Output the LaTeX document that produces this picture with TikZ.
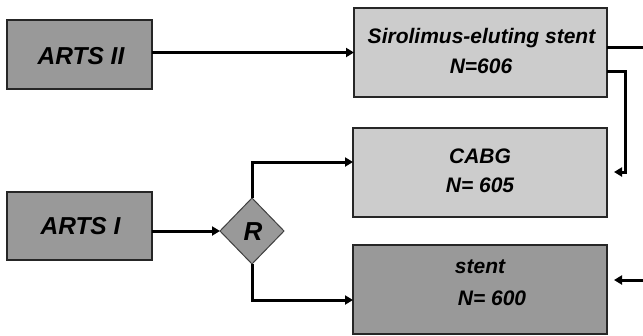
\documentclass[tikz,border=0pt]{standalone}
\usepackage{fontspec}
\setmainfont{Liberation Sans}
\usetikzlibrary{shapes.geometric,arrows.meta}
\definecolor{darkfill}{HTML}{999999}
\definecolor{lightfill}{HTML}{CCCCCC}
\begin{document}
\begin{tikzpicture}[x=1pt,y=-1pt,
  boxbase/.style={draw=black!85,line width=1.8pt,inner sep=0pt,outer sep=0pt},
  darkbox/.style={boxbase,fill=darkfill},
  lightbox/.style={boxbase,fill=lightfill},
  txt/.style={inner sep=0pt,anchor=base,font=\fontsize{21}{25}\selectfont\bfseries\itshape},
  bigtxt/.style={inner sep=0pt,anchor=base,font=\fontsize{24.5}{29}\selectfont\bfseries\itshape},
  conn/.style={line width=3pt,-{Triangle[length=8pt,width=9pt]}},
  plain/.style={line width=3pt}]
\useasboundingbox (0,0) rectangle (643,335);
% boxes
\node[darkbox,minimum width=145pt,minimum height=69pt] (arts2) at (79.5,54.5) {};
\node[darkbox,minimum width=145pt,minimum height=68pt] (arts1) at (79.5,226) {};
\node[lightbox,minimum width=253pt,minimum height=89pt] (siro) at (480.5,52.5) {};
\node[lightbox,minimum width=254pt,minimum height=89pt] (cabg) at (480,172.5) {};
\node[darkbox,minimum width=254pt,minimum height=89pt] (stent) at (480,289.5) {};
\node[diamond,draw=black!75,line width=1pt,fill=darkfill,inner sep=0pt,outer sep=0pt,
      minimum width=64pt,minimum height=66pt] (R) at (252,231) {};
% texts
\node[bigtxt] (t2) at (81,64) {ARTS II};
\node[bigtxt] (t1) at (80.5,234) {ARTS I};
\node[inner sep=0pt,anchor=base,font=\fontsize{26}{30}\selectfont\bfseries\itshape] (tR) at (253,240) {R};
\node[txt] (s1) at (481.5,43) {Sirolimus-eluting stent};
\node[txt] (s2) at (481,73) {N=606};
\node[txt] (c1) at (480,163) {CABG};
\node[txt] (c2) at (480,192) {N= 605};
\node[txt] (d1) at (480,273) {stent};
\node[txt] (d2) at (492,305) {N= 600};
% connectors
\draw[conn] (arts2.east |- siro.west) -- (siro.west);
\coordinate (outA) at (643,47);
\draw[plain] (siro.east |- outA) -- (outA);
\coordinate (h1) at (625,71);
\coordinate (hookend) at (614,172);
\draw[conn] (siro.east |- h1) -- (h1) |- (hookend);
\coordinate (inB) at (643,280);
\coordinate (inBend) at (614,280);
\draw[conn] (inB) -- (inBend);
\draw[conn] (arts1.east |- R.west) -- (R.west);
\draw[conn] (R.north) |- ([yshift=10.5pt]cabg.west);
\draw[conn] (R.south) |- ([yshift=-10.5pt]stent.west);
\end{tikzpicture}
\end{document}
